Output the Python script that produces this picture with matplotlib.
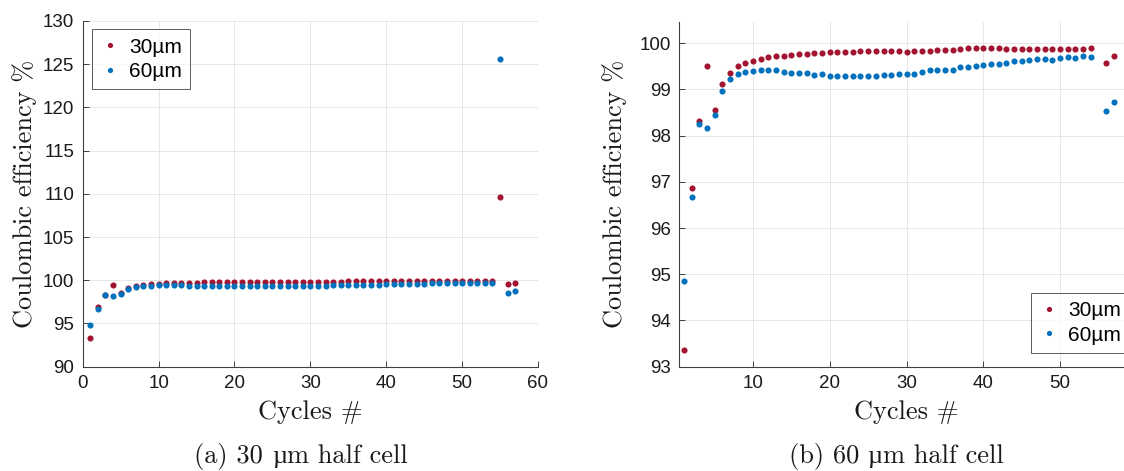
import matplotlib
matplotlib.use("Agg")
import matplotlib.pyplot as plt
import numpy as np

cycles = list(range(1, 58))
ce_30um = [93.36, 96.87, 98.32, 99.50, 98.55, 99.12, 99.36, 99.51, 99.58, 99.62,
           99.66, 99.70, 99.73, 99.73, 99.74, 99.76, 99.77, 99.78, 99.79, 99.80,
           99.81, 99.81, 99.81, 99.83, 99.83, 99.83, 99.83, 99.83, 99.84, 99.81,
           99.83, 99.83, 99.84, 99.85, 99.86, 99.86, 99.88, 99.89, 99.89, 99.90,
           99.90, 99.89, 99.88, 99.88, 99.88, 99.88, 99.87, 99.88, 99.88, 99.88,
           99.88, 99.88, 99.88, 99.89, 109.6, 99.58, 99.73]
ce_60um = [94.85, 96.68, 98.25, 98.17, 98.44, 98.97, 99.22, 99.33, 99.38, 99.40,
           99.42, 99.42, 99.42, 99.37, 99.35, 99.35, 99.35, 99.32, 99.33, 99.30,
           99.29, 99.29, 99.29, 99.29, 99.29, 99.30, 99.31, 99.32, 99.33, 99.34,
           99.33, 99.38, 99.42, 99.42, 99.42, 99.42, 99.48, 99.49, 99.50, 99.53,
           99.55, 99.56, 99.58, 99.62, 99.62, 99.64, 99.65, 99.65, 99.64, 99.67,
           99.70, 99.67, 99.73, 99.70, 125.6, 98.53, 98.73]
series_labels = ["30\u00b5m", "60\u00b5m"]
# captions split around the micro sign (rendered with a fallback font)
captions = [("(a) 30", "\u00b5", "m half cell"), ("(b) 60", "\u00b5", "m half cell")]
xlabel = "Cycles #"
ylabel = "Coulombic efficiency %"

W, H = 1124, 471
fig = plt.figure(figsize=(W / 100, H / 100), dpi=100)

RED = "#A2142F"
BLUE = "#0072BD"
AXC = "#404040"
TXT = "#1a1a1a"
serif = ["cmr10"]
micro_font = ["Liberation Serif"]
sans = ["Liberation Sans", "DejaVu Sans"]


def px_axes(x0, x1, ytop, ybot):
    return fig.add_axes([x0 / W, 1 - ybot / H, (x1 - x0) / W, (ybot - ytop) / H])


def style(ax):
    for s in ["top", "right"]:
        ax.spines[s].set_visible(False)
    for s in ["left", "bottom"]:
        ax.spines[s].set_color(AXC)
        ax.spines[s].set_linewidth(0.8)
    ax.grid(True, color="#e6e6e6", linewidth=0.7)
    ax.set_axisbelow(True)
    ax.tick_params(direction="in", length=4, width=0.7, color=AXC,
                   labelsize=13.5, pad=6, labelcolor=TXT)
    for lab in ax.get_xticklabels() + ax.get_yticklabels():
        lab.set_family(sans)


# Left panel
ax1 = px_axes(82.7, 538, 21, 366.7)
ax1.plot(cycles, ce_30um, "o", color=RED, ms=4.4, mec="none", label=series_labels[0])
ax1.plot(cycles, ce_60um, "o", color=BLUE, ms=4.4, mec="none", label=series_labels[1])
ax1.set_xlim(0, 60)
ax1.set_ylim(90, 130)
ax1.set_xticks(np.arange(0, 61, 10))
ax1.set_yticks(np.arange(90, 131, 5))
style(ax1)

# Right panel
ax2 = px_axes(679, 1133, 21.5, 366.7)
ax2.plot(cycles, ce_30um, "o", color=RED, ms=4.4, mec="none", label=series_labels[0])
ax2.plot(cycles, ce_60um, "o", color=BLUE, ms=4.4, mec="none", label=series_labels[1])
ax2.set_xlim(0.36, 59.5)
ax2.set_ylim(93, 100.47)
ax2.set_xticks(np.arange(10, 51, 10))
ax2.set_yticks(np.arange(93, 101, 1))
style(ax2)

for ax, yl_x, xl_y in [(ax1, 25, 412), (ax2, 615, 412)]:
    bb = ax.get_position()
    ax.set_xlabel(xlabel, family=serif, fontsize=19, color=TXT)
    ax.set_ylabel(ylabel, family=serif, fontsize=19, color=TXT)
    axh = bb.height * H
    axw = bb.width * W
    x0 = bb.x0 * W
    ybot = (1 - bb.y0) * H
    ax.xaxis.set_label_coords(0.5, (ybot - xl_y) / axh)
    ax.xaxis.label.set_va("center")
    ax.yaxis.set_label_coords((yl_x - x0) / axw, 0.5)
    ax.yaxis.label.set_va("center")

leg_kw = dict(prop={"family": sans, "size": 15}, frameon=True, fancybox=False,
              borderpad=0.4, handlelength=1.0, handletextpad=0.4,
              labelspacing=0.25, markerscale=0.85, borderaxespad=0,
              bbox_transform=fig.transFigure)
leg1 = ax1.legend(loc="upper left", bbox_to_anchor=(91.7 / W, 1 - 29.3 / H), **leg_kw)
leg2 = ax2.legend(loc="upper left", bbox_to_anchor=(1030.7 / W, 1 - 293 / H), **leg_kw)
for leg in (leg1, leg2):
    fr = leg.get_frame()
    fr.set_edgecolor("#333333")
    fr.set_linewidth(0.7)

# Captions built from pieces so the micro sign can use a font that has it
renderer = fig.canvas.get_renderer()
cap_fs = 19
space_px = 0.333 * cap_fs * 100 / 72
for (p1, p2, p3), cx in zip(captions, [301, 896]):
    cy = 1 - 457 / H
    t1 = fig.text(0, cy, p1, family=serif, fontsize=cap_fs, ha="left", va="baseline", color=TXT)
    t2 = fig.text(0, cy, p2, family=micro_font, fontsize=cap_fs, ha="left", va="baseline", color=TXT)
    t3 = fig.text(0, cy, p3, family=serif, fontsize=cap_fs, ha="left", va="baseline", color=TXT)
    w1 = t1.get_window_extent(renderer).width
    w2 = t2.get_window_extent(renderer).width
    w3 = t3.get_window_extent(renderer).width
    total = w1 + space_px + w2 + w3
    start = cx - total / 2
    t1.set_x(start / W)
    t2.set_x((start + w1 + space_px) / W)
    t3.set_x((start + w1 + space_px + w2) / W)
    for t in (t1, t2, t3):
        t.set_y(1 - 463 / H)

fig.savefig("out.png", dpi=100)
